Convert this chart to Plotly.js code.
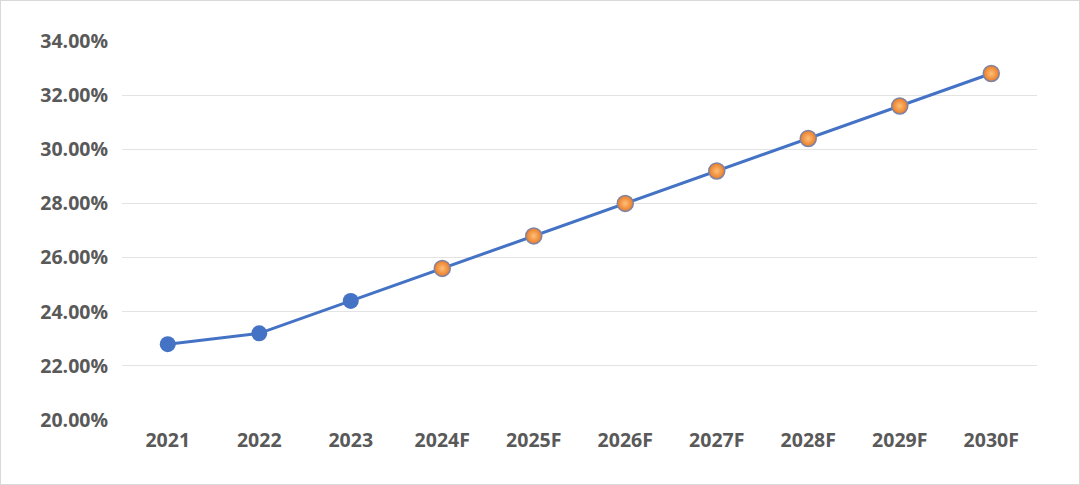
<!DOCTYPE html>
<html>
<head>
<meta charset="utf-8">
<script src="https://cdn.plot.ly/plotly-3.0.1.min.js"></script>
<style>
html,body{margin:0;padding:0;background:#fff;}
#wrap{width:1080px;height:485px;box-sizing:border-box;border:1px solid #D9D9D9;background:#fff;}
#chart{width:1078px;height:483px;}
</style>
</head>
<body>
<div id="wrap"><div id="chart"></div></div>
<script>
var categories = ["2021","2022","2023","2024F","2025F","2026F","2027F","2028F","2029F","2030F"];
var values = [22.8, 23.2, 24.4, 25.6, 26.8, 28.0, 29.2, 30.4, 31.6, 32.8];
var forecastFlags = [false,false,false,true,true,true,true,true,true,true];
var yTicks = [20,22,24,26,28,30,32,34];
var yTickLabels = ["20.00%","22.00%","24.00%","26.00%","28.00%","30.00%","32.00%","34.00%"];

var blue = "#4472C4";
var markerColors = forecastFlags.map(function(f){return f ? "#EC7A22" : blue;});
var gradColors = forecastFlags.map(function(f){return f ? "#FCC07A" : blue;});
var lineColors = forecastFlags.map(function(f){return f ? "#7E84A6" : blue;});
var lineWidths = forecastFlags.map(function(f){return f ? 1.5 : 0;});

var trace = {
  x: categories, y: values, type: "scatter", mode: "lines+markers",
  line: {color: blue, width: 3},
  marker: {size: 16, color: markerColors,
    gradient: {type: "radial", color: gradColors},
    line: {color: lineColors, width: lineWidths}},
  hoverinfo: "x+y"
};

var font = {family: "Open Sans, Noto Sans, sans-serif", size: 19.5, color: "#595959", weight: "bold"};

var layout = {
  width: 1078, height: 483,
  margin: {l: 121, r: 42, t: 40, b: 64},
  paper_bgcolor: "#fff", plot_bgcolor: "#fff",
  showlegend: false,
  font: font,
  xaxis: {type: "category", range: [-0.5, 9.5], showgrid: false, zeroline: false, showline: false,
    ticks: "", tickfont: font, ticklabelstandoff: 6, fixedrange: true},
  yaxis: {range: [20, 34], tickvals: yTicks, ticktext: yTickLabels,
    showgrid: true, gridcolor: "#E3E3E3", gridwidth: 1, zeroline: false, showline: false,
    ticks: "", tickfont: font, ticklabelstandoff: 13, fixedrange: true}
};

Plotly.newPlot("chart", [trace], layout, {displayModeBar: false, staticPlot: true});
</script>
</body>
</html>
